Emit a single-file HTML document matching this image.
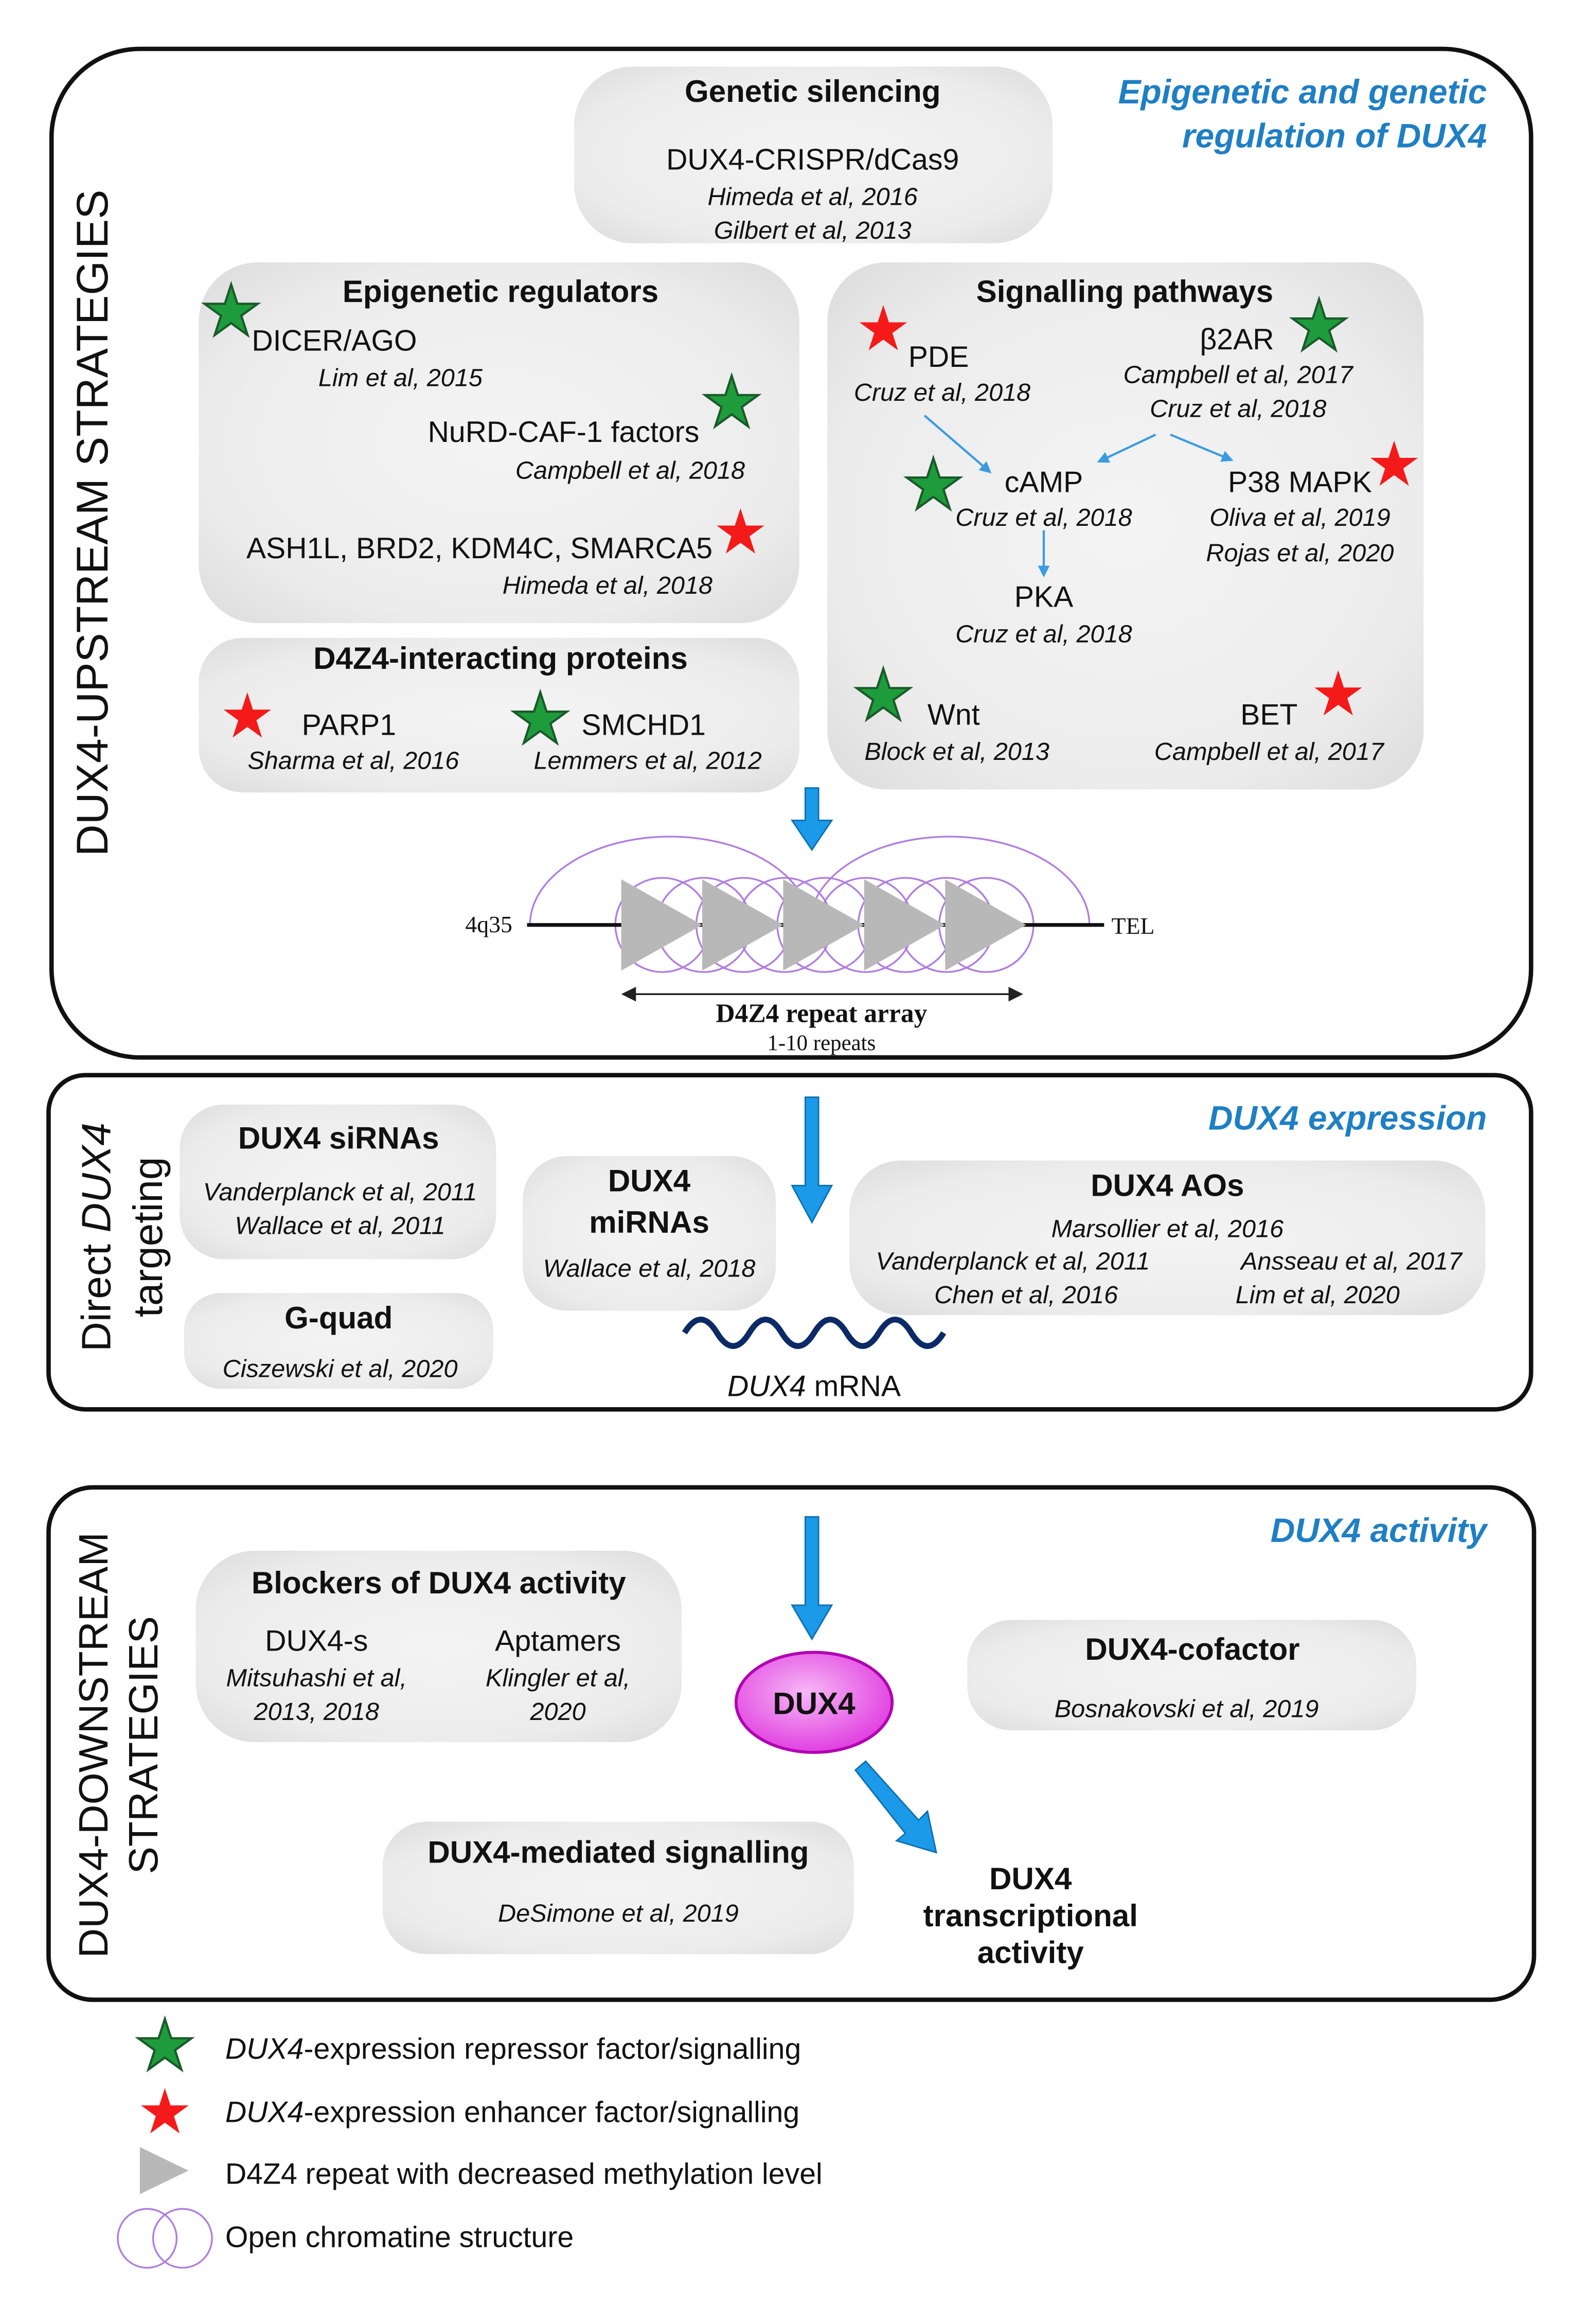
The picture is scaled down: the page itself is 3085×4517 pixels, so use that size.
<!DOCTYPE html>
<html><head><meta charset="utf-8"><style>
html,body{margin:0;padding:0;background:#fff}
svg{display:block}
text{font-family:"Liberation Sans",Arial,sans-serif;fill:#111}
.t{font-weight:bold;font-size:21px}
.i{font-size:20px}
.r{font-style:italic;font-size:17px}
.s{font-family:"Liberation Serif",serif}
.bl{fill:#1f7fc4;font-style:italic;font-weight:bold;font-size:23px}
</style></head><body>
<svg width="3085" height="4517" viewBox="0 0 1078 1578" xmlns="http://www.w3.org/2000/svg">
<defs>
<radialGradient id="g" cx="50%" cy="50%" r="70%">
<stop offset="0" stop-color="#f4f4f4"/><stop offset="0.7" stop-color="#ececec"/><stop offset="1" stop-color="#dcdcdc"/>
</radialGradient>
<radialGradient id="m" cx="45%" cy="40%" r="60%">
<stop offset="0" stop-color="#f7b8f7"/><stop offset="1" stop-color="#e040e0"/>
</radialGradient>
<polygon id="st" points="0,-1 0.2245,-0.309 0.951,-0.309 0.363,0.118 0.588,0.809 0,0.382 -0.588,0.809 -0.363,0.118 -0.951,-0.309 -0.2245,-0.309"/>
<marker id="ah" markerWidth="8" markerHeight="8" refX="6" refY="4" orient="auto" markerUnits="userSpaceOnUse"><path d="M0,0 L8,4 L0,8 z" fill="#3b9be0"/></marker>
<marker id="ak" markerWidth="10" markerHeight="10" refX="8" refY="5" orient="auto" markerUnits="userSpaceOnUse"><path d="M0,0 L10,5 L0,10 z" fill="#222"/></marker>
<marker id="ak2" markerWidth="10" markerHeight="10" refX="2" refY="5" orient="auto" markerUnits="userSpaceOnUse"><path d="M10,0 L0,5 L10,10 z" fill="#222"/></marker>
</defs>

<!-- Outer boxes -->
<rect x="35" y="33" width="1005" height="685" rx="60" fill="none" stroke="#111" stroke-width="3"/>
<rect x="33" y="730" width="1007" height="227" rx="25" fill="none" stroke="#111" stroke-width="3"/>
<rect x="33" y="1010" width="1009" height="348" rx="30" fill="none" stroke="#111" stroke-width="3"/>

<!-- Vertical labels -->
<text transform="translate(73,355) rotate(-90)" text-anchor="middle" font-size="30">DUX4-UPSTREAM STRATEGIES</text>
<text transform="translate(75,840) rotate(-90)" text-anchor="middle" font-size="28">Direct <tspan font-style="italic">DUX4</tspan></text>
<text transform="translate(110,840) rotate(-90)" text-anchor="middle" font-size="28">targeting</text>
<text transform="translate(73,1185) rotate(-90)" text-anchor="middle" font-size="28">DUX4-DOWNSTREAM</text>
<text transform="translate(107,1185) rotate(-90)" text-anchor="middle" font-size="28">STRATEGIES</text>

<!-- Blue titles -->
<text class="bl" x="1010" y="70" text-anchor="end">Epigenetic and genetic</text>
<text class="bl" x="1010" y="100" text-anchor="end">regulation of DUX4</text>
<text class="bl" x="1010" y="767" text-anchor="end">DUX4 expression</text>
<text class="bl" x="1010" y="1047" text-anchor="end">DUX4 activity</text>

<!-- Gray boxes -->
<rect x="390" y="45" width="325" height="120" rx="40" fill="url(#g)"/>
<rect x="135" y="178" width="408" height="245" rx="40" fill="url(#g)"/>
<rect x="562" y="178" width="405" height="358" rx="40" fill="url(#g)"/>
<rect x="135" y="433" width="408" height="105" rx="30" fill="url(#g)"/>
<rect x="122" y="750" width="215" height="105" rx="30" fill="url(#g)"/>
<rect x="125" y="878" width="210" height="65" rx="25" fill="url(#g)"/>
<rect x="355" y="785" width="172" height="105" rx="30" fill="url(#g)"/>
<rect x="577" y="788" width="432" height="105" rx="35" fill="url(#g)"/>
<rect x="133" y="1053" width="330" height="130" rx="40" fill="url(#g)"/>
<rect x="657" y="1100" width="305" height="75" rx="30" fill="url(#g)"/>
<rect x="260" y="1237" width="320" height="90" rx="30" fill="url(#g)"/>

<!-- Genetic silencing -->
<text class="t" x="552" y="69" text-anchor="middle">Genetic silencing</text>
<text class="i" x="552" y="115" text-anchor="middle">DUX4-CRISPR/dCas9</text>
<text class="r" x="552" y="139" text-anchor="middle">Himeda et al, 2016</text>
<text class="r" x="552" y="162" text-anchor="middle">Gilbert et al, 2013</text>

<!-- Epigenetic regulators -->
<text class="t" x="340" y="205" text-anchor="middle">Epigenetic regulators</text>
<text class="i" x="171" y="238">DICER/AGO</text>
<text class="r" x="272" y="262" text-anchor="middle">Lim et al, 2015</text>
<text class="i" x="475" y="300" text-anchor="end">NuRD-CAF-1 factors</text>
<text class="r" x="506" y="325" text-anchor="end">Campbell et al, 2018</text>
<text class="i" x="484" y="379" text-anchor="end">ASH1L, BRD2, KDM4C, SMARCA5</text>
<text class="r" x="484" y="403" text-anchor="end">Himeda et al, 2018</text>

<!-- D4Z4-interacting -->
<text class="t" x="340" y="454" text-anchor="middle">D4Z4-interacting proteins</text>
<text class="i" x="205" y="499">PARP1</text>
<text class="r" x="240" y="522" text-anchor="middle">Sharma et al, 2016</text>
<text class="i" x="395" y="499">SMCHD1</text>
<text class="r" x="440" y="522" text-anchor="middle">Lemmers et al, 2012</text>

<!-- Signalling -->
<text class="t" x="764" y="205" text-anchor="middle">Signalling pathways</text>
<text class="i" x="617" y="249">PDE</text>
<text class="r" x="640" y="272" text-anchor="middle">Cruz et al, 2018</text>
<text class="i" x="815" y="237">β2AR</text>
<text class="r" x="841" y="260" text-anchor="middle">Campbell et al, 2017</text>
<text class="r" x="841" y="283" text-anchor="middle">Cruz et al, 2018</text>
<text class="i" x="709" y="334" text-anchor="middle">cAMP</text>
<text class="r" x="709" y="357" text-anchor="middle">Cruz et al, 2018</text>
<text class="i" x="883" y="334" text-anchor="middle">P38 MAPK</text>
<text class="r" x="883" y="357" text-anchor="middle">Oliva et al, 2019</text>
<text class="r" x="883" y="381" text-anchor="middle">Rojas et al, 2020</text>
<text class="i" x="709" y="412" text-anchor="middle">PKA</text>
<text class="r" x="709" y="436" text-anchor="middle">Cruz et al, 2018</text>
<text class="i" x="630" y="492">Wnt</text>
<text class="r" x="650" y="516" text-anchor="middle">Block et al, 2013</text>
<text class="i" x="862" y="492" text-anchor="middle">BET</text>
<text class="r" x="862" y="516" text-anchor="middle">Campbell et al, 2017</text>
<g stroke="#3b9be0" stroke-width="1.5" fill="none" marker-end="url(#ah)">
<line x1="628" y1="282" x2="672" y2="320"/>
<line x1="785" y1="295" x2="747" y2="313"/>
<line x1="795" y1="295" x2="836" y2="312"/>
<line x1="709" y1="360" x2="709" y2="390"/>
</g>

<!-- Stars -->
<g stroke="#0a4" stroke-width="0.05">
<use href="#st" transform="translate(157,212) scale(19)" fill="#1e9c3c" stroke="#1a5a2a" stroke-width="0.08"/>
<use href="#st" transform="translate(497,274) scale(19)" fill="#1e9c3c" stroke="#1a5a2a" stroke-width="0.08"/>
<use href="#st" transform="translate(367,489) scale(19)" fill="#1e9c3c" stroke="#1a5a2a" stroke-width="0.08"/>
<use href="#st" transform="translate(896,222) scale(19)" fill="#1e9c3c" stroke="#1a5a2a" stroke-width="0.08"/>
<use href="#st" transform="translate(634,330) scale(19)" fill="#1e9c3c" stroke="#1a5a2a" stroke-width="0.08"/>
<use href="#st" transform="translate(600,473) scale(19)" fill="#1e9c3c" stroke="#1a5a2a" stroke-width="0.08"/>
<use href="#st" transform="translate(112,1390) scale(19)" fill="#1e9c3c" stroke="#1a5a2a" stroke-width="0.08"/>
<use href="#st" transform="translate(503,362) scale(17)" fill="#f41a1a" stroke="none"/>
<use href="#st" transform="translate(168,487) scale(17)" fill="#f41a1a" stroke="none"/>
<use href="#st" transform="translate(600,224) scale(17)" fill="#f41a1a" stroke="none"/>
<use href="#st" transform="translate(947,316) scale(17)" fill="#f41a1a" stroke="none"/>
<use href="#st" transform="translate(909,472) scale(17)" fill="#f41a1a" stroke="none"/>
<use href="#st" transform="translate(112,1435) scale(17)" fill="#f41a1a" stroke="none"/>
</g>

<!-- Blue arrows -->
<g fill="#1a9ae8" stroke="#0d6fb0" stroke-width="1">
<path d="M547,535 h9 v22 h9 l-13.5,20 l-13.5,-20 h9 z"/>
<path d="M547,745 h9 v60 h9 l-13.5,25 l-13.5,-25 h9 z"/>
<path d="M547,1030 h9 v60 h9 l-13.5,23 l-13.5,-23 h9 z"/>
<path d="M581,1202 l7,-6 l36,40 l6,-6 l6,28 l-27,-8 l6,-5 z"/>
</g>

<!-- D4Z4 array -->
<g fill="none" stroke="#b07ee0" stroke-width="1.2">
<path d="M360,628 A95,60 0 0 1 550,628"/>
<path d="M550,628 A95,60 0 0 1 740,628"/>
<circle cx="450" cy="628" r="32"/><circle cx="505" cy="628" r="32"/><circle cx="560" cy="628" r="32"/><circle cx="615" cy="628" r="32"/><circle cx="670" cy="628" r="32"/>
<circle cx="478" cy="628" r="32"/><circle cx="533" cy="628" r="32"/><circle cx="588" cy="628" r="32"/><circle cx="643" cy="628" r="32"/>
</g>
<line x1="358" y1="628" x2="750" y2="628" stroke="#111" stroke-width="2.5"/>
<g fill="#b8b8b8">
<polygon points="422,597 477,628 422,659"/>
<polygon points="477,597 532,628 477,659"/>
<polygon points="532,597 587,628 532,659"/>
<polygon points="587,597 642,628 587,659"/>
<polygon points="642,597 697,628 642,659"/>
</g>
<text class="s" x="348" y="633" text-anchor="end" font-size="16">4q35</text>
<text class="s" x="755" y="634" font-size="16">TEL</text>
<line x1="424" y1="675" x2="693" y2="675" stroke="#222" stroke-width="1.2" marker-end="url(#ak)" marker-start="url(#ak2)"/>
<text class="s" x="558" y="694" text-anchor="middle" font-size="18" font-weight="bold">D4Z4 repeat array</text>
<text class="s" x="558" y="713" text-anchor="middle" font-size="15">1-10 repeats</text>

<!-- Direct targeting -->
<text class="t" x="230" y="780" text-anchor="middle">DUX4 siRNAs</text>
<text class="r" x="231" y="815" text-anchor="middle">Vanderplanck et al, 2011</text>
<text class="r" x="231" y="838" text-anchor="middle">Wallace et al, 2011</text>
<text class="t" x="230" y="902" text-anchor="middle">G-quad</text>
<text class="r" x="231" y="935" text-anchor="middle">Ciszewski et al, 2020</text>
<text class="t" x="441" y="809" text-anchor="middle">DUX4</text>
<text class="t" x="441" y="837" text-anchor="middle">miRNAs</text>
<text class="r" x="441" y="867" text-anchor="middle">Wallace et al, 2018</text>
<text class="t" x="793" y="812" text-anchor="middle">DUX4 AOs</text>
<text class="r" x="793" y="840" text-anchor="middle">Marsollier et al, 2016</text>
<text class="r" x="688" y="862" text-anchor="middle">Vanderplanck et al, 2011</text>
<text class="r" x="697" y="885" text-anchor="middle">Chen et al, 2016</text>
<text class="r" x="918" y="862" text-anchor="middle">Ansseau et al, 2017</text>
<text class="r" x="895" y="885" text-anchor="middle">Lim et al, 2020</text>
<path d="M465,905 q11,-18 22,0 t22,0 t22,0 t22,0 t22,0 t22,0 t22,0 t22,0" fill="none" stroke="#0b2a66" stroke-width="4"/>
<text x="553" y="948" text-anchor="middle" font-size="20"><tspan font-style="italic">DUX4</tspan> mRNA</text>

<!-- Downstream -->
<text class="t" x="298" y="1082" text-anchor="middle">Blockers of DUX4 activity</text>
<text class="i" x="215" y="1121" text-anchor="middle">DUX4-s</text>
<text class="r" x="215" y="1145" text-anchor="middle">Mitsuhashi et al,</text>
<text class="r" x="215" y="1168" text-anchor="middle">2013, 2018</text>
<text class="i" x="379" y="1121" text-anchor="middle">Aptamers</text>
<text class="r" x="379" y="1145" text-anchor="middle">Klingler et al,</text>
<text class="r" x="379" y="1168" text-anchor="middle">2020</text>
<text class="t" x="810" y="1127" text-anchor="middle">DUX4-cofactor</text>
<text class="r" x="806" y="1166" text-anchor="middle">Bosnakovski et al, 2019</text>
<text class="t" x="420" y="1265" text-anchor="middle">DUX4-mediated signalling</text>
<text class="r" x="420" y="1305" text-anchor="middle">DeSimone et al, 2019</text>
<ellipse cx="553" cy="1156" rx="53" ry="34" fill="url(#m)" stroke="#b000b0" stroke-width="2"/>
<text x="553" y="1164" text-anchor="middle" font-size="21" font-weight="bold">DUX4</text>
<text x="700" y="1283" text-anchor="middle" font-size="21" font-weight="bold">DUX4</text>
<text x="700" y="1308" text-anchor="middle" font-size="21" font-weight="bold">transcriptional</text>
<text x="700" y="1333" text-anchor="middle" font-size="21" font-weight="bold">activity</text>

<!-- Legend -->
<text x="153" y="1398" font-size="20"><tspan font-style="italic">DUX4</tspan>-expression repressor factor/signalling</text>
<text x="153" y="1441" font-size="20"><tspan font-style="italic">DUX4</tspan>-expression enhancer factor/signalling</text>
<polygon points="95,1458 128,1474 95,1490" fill="#b8b8b8"/>
<text x="153" y="1483" font-size="20">D4Z4 repeat with decreased methylation level</text>
<circle cx="100" cy="1520" r="20" fill="none" stroke="#b07ee0" stroke-width="1.2"/>
<circle cx="124" cy="1520" r="20" fill="none" stroke="#b07ee0" stroke-width="1.2"/>
<text x="153" y="1526" font-size="20">Open chromatine structure</text>
</svg>
</body></html>
